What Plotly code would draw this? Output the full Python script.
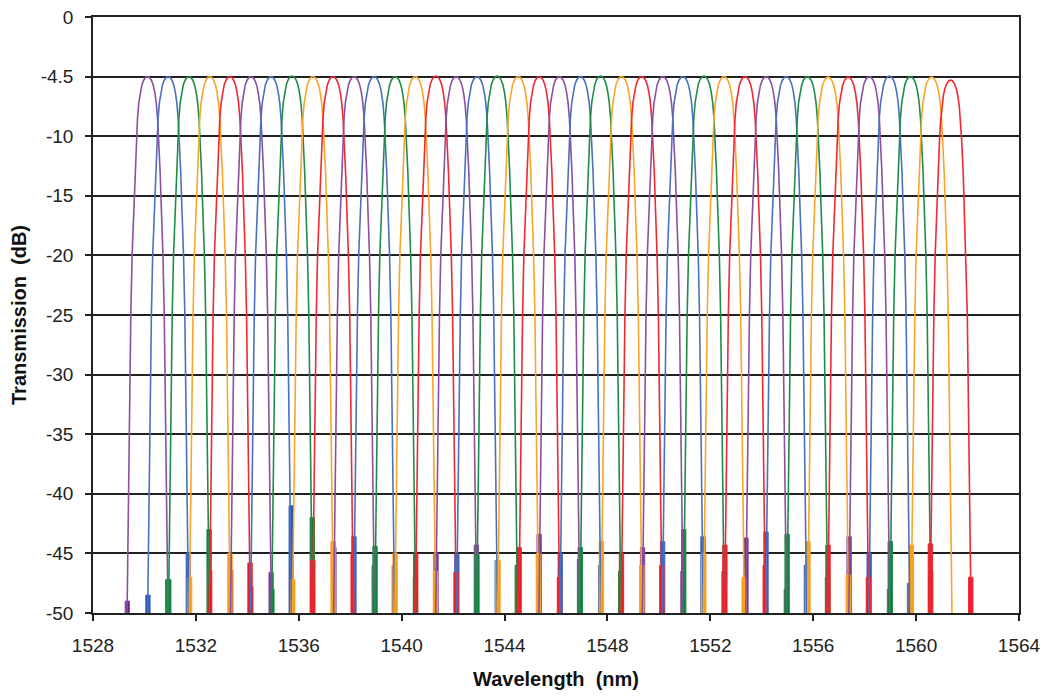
import plotly.graph_objects as go

# ---- data ----
# channel centre wavelengths (nm)
CENTERS = [1530.12, 1530.92, 1531.73, 1532.54, 1533.32, 1534.14, 1534.92, 1535.74, 1536.55, 1537.33,
           1538.15, 1538.93, 1539.75, 1540.53, 1541.33, 1542.12, 1542.93, 1543.71, 1544.53, 1545.35,
           1546.13, 1546.95, 1547.73, 1548.55, 1549.33, 1550.15, 1550.93, 1551.75, 1552.53, 1553.35,
           1554.17, 1554.95, 1555.77, 1556.58, 1557.36, 1558.18, 1558.96, 1559.78, 1560.60, 1561.34]
# peak level in chart units (gridline labelled -4.5 sits at -5)
PEAKS = [-5.0, -5.0, -5.0, -5.0, -5.0, -5.0, -5.0, -4.95, -5.0, -5.0,
         -5.0, -5.0, -5.0, -5.0, -4.95, -5.0, -5.0, -4.95, -5.0, -5.0,
         -5.0, -5.0, -4.95, -5.0, -5.0, -5.0, -5.0, -4.95, -5.0, -5.0,
         -5.0, -5.0, -5.0, -5.05, -5.05, -5.0, -4.95, -5.0, -5.05, -5.3]
# top of the noise-floor block on each skirt (chart units)
NOISE_L = [-49.0, -48.5, -47.2, -47.0, -46.4, -46.4, -47.8, -48.0, -47.2, -45.6,
           -44.5, -43.6, -44.4, -45.0, -45.0, -45.0, -45.1, -45.1, -45.6, -44.5,
           -43.4, -45.0, -44.5, -44.0, -45.0, -44.5, -44.0, -43.0, -45.0, -44.3,
           -43.7, -43.2, -43.4, -44.0, -44.3, -43.6, -45.0, -44.0, -44.3, -44.2]
NOISE_R = [-47.2, -45.0, -43.0, -45.0, -45.8, -46.6, -41.0, -42.0, -44.0, -45.0,
           -46.0, -46.0, -47.0, -46.5, -46.6, -44.3, -45.6, -46.0, -45.0, -47.0,
           -45.5, -46.0, -46.5, -46.0, -46.0, -46.5, -43.6, -46.5, -47.0, -46.0,
           -48.0, -46.0, -47.0, -46.8, -47.0, -48.0, -47.5, -46.5, -50.0, -47.0]
# filter passband shape: level (chart units) vs. distance from centre (nm)
EDGE_LEVELS = [-5.0, -5.05, -5.3, -5.7, -6.3, -7.2, -8.5, -10.0, -13.0, -15.0,
               -20.0, -25.0, -30.0, -35.0, -40.0, -45.0, -50.0, -56.0]
EDGE_OFFSETS = [0.0, 0.07, 0.15, 0.22, 0.28, 0.34, 0.39, 0.43, 0.49, 0.52,
                0.60, 0.65, 0.68, 0.71, 0.74, 0.77, 0.80, 0.83]

COLORS = ["#8C50A0", "#4A70C0", "#1E8C48", "#F9A52A", "#F02832"]
BLOCK_COLORS = ["#6A2484", "#2450B0", "#0F7A38", "#F59A12", "#E81820"]

Y_TICKS = [0, -5, -10, -15, -20, -25, -30, -35, -40, -45, -50]
Y_TEXT = ["0", "-4.5", "-10", "-15", "-20", "-25", "-30", "-35", "-40", "-45", "-50"]
X_TICKS = [1528, 1532, 1536, 1540, 1544, 1548, 1552, 1556, 1560, 1564]

fig = go.Figure()

# noise-floor blocks, grouped per colour
blocks = {i: ([], []) for i in range(5)}
for k, c in enumerate(CENTERS):
    bx, by = blocks[k % 5]
    for x0, x1, top in ((c - 0.87, c - 0.70, NOISE_L[k]), (c + 0.70, c + 0.87, NOISE_R[k])):
        if top > -49.9:
            bx += [x0, x1, x1, x0, x0, None]
            by += [-50, -50, top, top, -50, None]
for i in range(5):
    bx, by = blocks[i]
    fig.add_trace(go.Scatter(x=bx, y=by, mode="lines", fill="toself",
                             fillcolor=BLOCK_COLORS[i], line=dict(color=COLORS[i], width=1),
                             hoverinfo="skip", showlegend=False))

# filter curves
for k, c in enumerate(CENTERS):
    delta = PEAKS[k] - EDGE_LEVELS[0]
    lv = [l + delta if l > -12 else l for l in EDGE_LEVELS]
    xs = [c - o for o in reversed(EDGE_OFFSETS)] + [c + o for o in EDGE_OFFSETS[1:]]
    ys = list(reversed(lv)) + lv[1:]
    fig.add_trace(go.Scatter(x=xs, y=ys, mode="lines",
                             line=dict(color=COLORS[k % 5], width=1.6),
                             showlegend=False))

FONT = "Liberation Sans, Arial"
axis_common = dict(showline=True, linecolor="#222222", linewidth=1.5, mirror=True,
                   ticks="outside", ticklen=6, tickcolor="#222222", tickwidth=1.5,
                   tickfont=dict(family=FONT, size=19, color="#222222"),
                   zeroline=False, automargin=False, ticklabeloverflow="allow")

fig.update_xaxes(range=[1528, 1564], tickvals=X_TICKS, showgrid=False,
                 ticklabelstandoff=8,
                 title=dict(text="<b>Wavelength\u00a0\u00a0(nm)</b>", standoff=21,
                            font=dict(family=FONT, size=20, color="#111111")),
                 **axis_common)
fig.update_yaxes(range=[-50, 0], tickvals=Y_TICKS, ticktext=Y_TEXT, showgrid=True,
                 gridcolor="#222222", gridwidth=1.5, ticklabelstandoff=8,
                 title=dict(text="<b>Transmission\u00a0\u00a0(dB)</b>", standoff=12,
                            font=dict(family=FONT, size=20, color="#111111")),
                 **axis_common)

# page body has an 8px margin: size and margins compensate for it
fig.update_layout(width=1040, height=682, margin=dict(l=85, r=29, t=9, b=77),
                  plot_bgcolor="white", paper_bgcolor="white")

fig.write_html("out.html")
